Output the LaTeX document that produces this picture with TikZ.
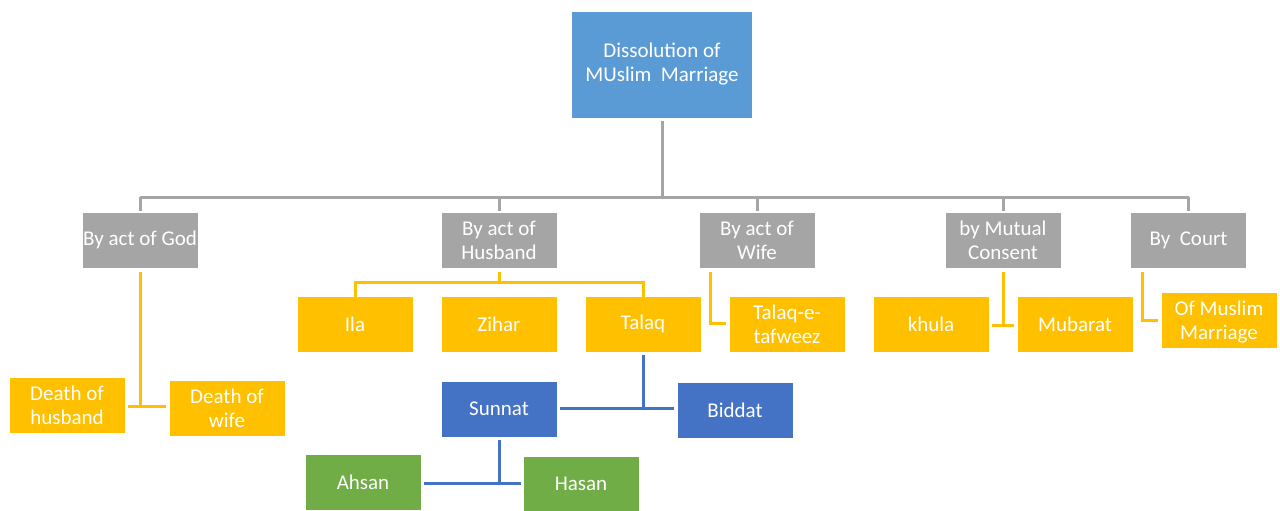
\documentclass[tikz,border=0pt]{standalone}
\usepackage{fontspec}
\setmainfont{Carlito}
\definecolor{cgray}{HTML}{A5A5A5}
\definecolor{cyel}{HTML}{FFC000}
\definecolor{cblue}{HTML}{4472C4}
\definecolor{clblue}{HTML}{5B9BD5}
\definecolor{cgreen}{HTML}{70AD47}
\tikzset{
  basebox/.style={rectangle, inner sep=0pt, minimum width=116pt, minimum height=56pt,
    text=white, align=center, font=\fontsize{21}{24}\selectfont, draw=white, line width=0.6pt},
  gbox/.style={basebox, fill=cgray},
  ybox/.style={basebox, fill=cyel},
  bbox/.style={basebox, fill=cblue},
  grbox/.style={basebox, fill=cgreen},
  rootbox/.style={basebox, fill=clblue, minimum width=181pt, minimum height=107pt},
  txtonly/.style={inner sep=0pt, text=white, align=center, font=\fontsize{21}{24}\selectfont},
  gline/.style={draw=cgray, line width=3pt},
  yline/.style={draw=cyel, line width=3pt},
  bline/.style={draw=cblue, line width=3pt},
}
\begin{document}
\begin{tikzpicture}[x=1pt,y=-1pt]
\useasboundingbox (0,0) rectangle (1280,511);
% root
\node[rootbox] (root) at (662,64.5) {Dissolution of\\MUslim\ \ Marriage};
% gray level
\node[gbox] (god) at (140,240) {By act of God};
\node[gbox] (husb) at (499,240) {By act of\\Husband};
\node[gbox] (wife) at (757,240) {By act of\\Wife};
\node[gbox] (mutual) at (1003,240) {by Mutual\\Consent};
\node[gbox] (court) at (1188.5,240) {By\ \ Court};
% yellow level
\node[ybox] (ila) at (355,324) {Ila};
\node[ybox] (zihar) at (499,324) {Zihar};
\node[ybox] (talaq) at (643,324) {Talaq};
\node[ybox] (tafweez) at (787,324) {Talaq-e-\\tafweez};
\node[ybox] (khula) at (931,324) {khula};
\node[ybox] (mubarat) at (1075,324) {Mubarat};
\node[ybox] (ofmm) at (1219,320) {};
\begin{scope}
  \clip (ofmm.south west) rectangle (ofmm.north east);
  \node[txtonly] (ofmmtxt) at (1219,332) {Of Muslim\\Marriage\\Act 1939};
\end{scope}
\node[ybox] (dhus) at (67,405) {Death of\\husband};
\node[ybox] (dwife) at (227,408) {Death of\\wife};
% blue level
\node[bbox] (sunnat) at (499,409) {Sunnat};
\node[bbox] (biddat) at (735,410) {Biddat};
% green level
\node[grbox] (ahsan) at (363,482) {Ahsan};
\node[grbox] (hasan) at (581,484) {Hasan};
% coordinates for gray bus
\coordinate (busroot) at (662,197);
\coordinate (busl) at (140,197);
\coordinate (busr) at (1188.5,197);
% gray connectors
\draw[gline] ([yshift=-3pt]root.south) -- (busroot);
\draw[gline] (busl) -- (busr);
\draw[gline] (busl) -- ([yshift=1pt]god.north);
\draw[gline] (busl -| husb.north) -- ([yshift=1pt]husb.north);
\draw[gline] (busl -| wife.north) -- ([yshift=1pt]wife.north);
\draw[gline] (busl -| mutual.north) -- ([yshift=1pt]mutual.north);
\draw[gline] (busr) -- ([yshift=1pt]court.north);
% god
\coordinate (godj) at (140,406);
\draw[yline] ([yshift=-4pt]god.south) -- (godj);
\draw[yline] ([xshift=3pt]dhus.east |- godj) -- ([xshift=-3pt]dwife.west |- godj);
% husband
\coordinate (husbj) at (499,282);
\draw[yline] ([yshift=-4pt]husb.south) -- (husbj);
\draw[yline] ([yshift=-4pt]ila.north) |- (husbj) -| ([yshift=-4pt]talaq.north);
% wife
\coordinate (wifej) at (710,323);
\draw[yline] ([xshift=-47pt,yshift=-4pt]wife.south) -- (wifej) -- ([xshift=-3pt]tafweez.west |- wifej);
% mutual
\coordinate (mutj) at (1003,325);
\draw[yline] ([yshift=-4pt]mutual.south) -- (mutj);
\draw[yline] ([xshift=3pt]khula.east |- mutj) -- ([xshift=-3pt]mubarat.west |- mutj);
% court
\coordinate (courtj) at (1142,320);
\draw[yline] ([xshift=-46.5pt,yshift=-4pt]court.south) -- (courtj) -- ([xshift=-3pt]ofmm.west |- courtj);
% talaq
\coordinate (talj) at (643,408);
\draw[bline] ([yshift=-3pt]talaq.south) -- (talj);
\draw[bline] ([xshift=3pt]sunnat.east |- talj) -- ([xshift=-3pt]biddat.west |- talj);
% sunnat
\coordinate (sunj) at (499,483);
\draw[bline] ([yshift=-3pt]sunnat.south) -- (sunj);
\draw[bline] ([xshift=3pt]ahsan.east |- sunj) -- ([xshift=-2pt]hasan.west |- sunj);
\end{tikzpicture}
\end{document}
